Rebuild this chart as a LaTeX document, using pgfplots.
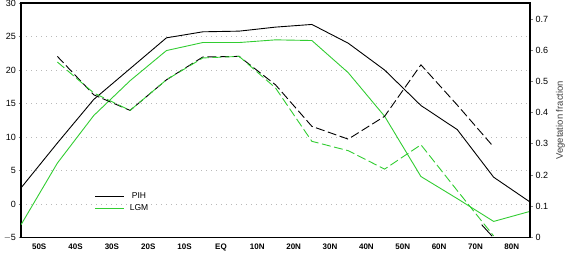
\documentclass[border=0pt]{standalone}
\usepackage{pgfplots}
\pgfplotsset{compat=1.18}
\usepackage{fontspec}
\setmainfont{Liberation Sans}
\definecolor{lgm}{RGB}{50,205,50}
\begin{document}
\begin{tikzpicture}
\pgfplotsset{
  every axis/.style={
    scale only axis, width=509pt, height=234.5pt,
    xmin=-55, xmax=85,
    /pgf/number format/assume math mode=true,
    tick label style={font=\fontsize{9}{10}\selectfont},
  }
}
\begin{axis}[
  at={(0,0)},
  ymin=-5, ymax=30,
  axis line style={line width=1.5pt},
  xtick pos=bottom, ytick pos=left,
  xtick={-50,-40,...,80},
  xticklabels={50S,40S,30S,20S,10S,EQ,10N,20N,30N,40N,50N,60N,70N,80N},
  xticklabel style={yshift=0pt, font=\fontsize{8}{9}\selectfont\bfseries},
  ytick={-5,0,5,...,30},
  yticklabels={$-$5,0,5,10,15,20,25,30},
  xtick style={draw=none},
  tick align=outside, major tick length=2.5pt,
  ytick style={line width=0.8pt},
  yticklabel style={xshift=1pt},
  ymajorgrids,
  grid style={gray!55, dash pattern=on 1pt off 4pt, line width=0.8pt},
  legend style={at={(0.139,0.151)}, anchor=west, draw=none, fill=none,
    font=\fontsize{8.5}{10}\selectfont, row sep=0.5pt},
  legend image code/.code={\draw[#1] (0pt,0pt) -- (29pt,0pt);},
  legend cell align=left,
]
\addplot[black, line width=0.9pt] coordinates {
(-55,2.4) (-45,9.1) (-35,15.6) (-25,20.2) (-15,24.8) (-5,25.7) (5,25.8) (15,26.4)
(25,26.8) (35,24.0) (45,20.0) (55,14.7) (65,11.1) (75,4.0) (85,0.3)};
\addlegendentry{\hspace{5pt}PIH}
\addplot[lgm, line width=0.9pt] coordinates {
(-55,-3.1) (-45,6.1) (-35,13.2) (-25,18.4) (-15,22.9) (-5,24.1) (5,24.1) (15,24.5)
(25,24.4) (35,19.6) (45,13.1) (55,4.1) (65,0.8) (75,-2.6) (85,-1.1)};
\addlegendentry{\hspace{3pt}LGM}
\end{axis}
\begin{axis}[
  at={(0,0)},
  ymin=0, ymax=0.751,
  axis y line*=right, axis x line=none,
  axis line style={line width=1.5pt},
  ytick={0,0.1,...,0.7},
  yticklabels={0,0.1,0.2,0.3,0.4,0.5,0.6,0.7},
  tick align=outside, major tick length=3pt,
  ytick style={line width=0.8pt},
  ylabel={Vegetation fraction},
  ylabel style={font=\fontsize{9.5}{10}\selectfont, color=black!75, yshift=-1pt},
  yticklabel style={xshift=-1pt},
]
\addplot[black, line width=0.9pt, dash pattern=on 9pt off 3.5pt] coordinates {
(-45,0.580) (-35,0.457) (-25,0.407) (-15,0.505) (-5,0.578) (5,0.580) (15,0.489)
(25,0.356) (35,0.315) (45,0.388) (55,0.553) (65,0.424) (75,0.29)};
\addplot[lgm, line width=0.9pt, dash pattern=on 9pt off 3.5pt] coordinates {
(-45,0.562) (-35,0.463) (-25,0.407) (-15,0.505) (-5,0.575) (5,0.580) (15,0.479)
(25,0.308) (35,0.278) (45,0.219) (55,0.297) (65,0.150) (75,0.005)};
\addplot[black, line width=0.9pt] coordinates {(71.7,0.041) (74.6,0.004)};
\end{axis}
\pgfresetboundingbox
\useasboundingbox (-21pt,-19.5pt) rectangle (549pt,237.5pt);
\end{tikzpicture}
\end{document}
